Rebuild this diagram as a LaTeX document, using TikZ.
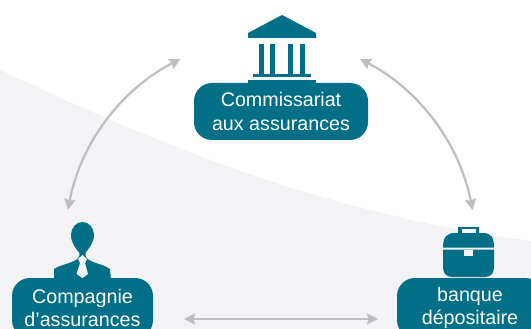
\documentclass[tikz,border=0pt]{standalone}
\usepackage{fontspec}
\setmainfont{Liberation Sans}
\usetikzlibrary{arrows.meta}
\definecolor{teal1}{HTML}{006F87}
\definecolor{bgpale}{HTML}{F3F3F6}
\definecolor{arrowgrey}{HTML}{BEBEC2}
\tikzset{
  lbl/.style={fill=teal1,text=white,rounded corners=18pt,align=center,font=\fontsize{19.7}{23.5}\selectfont,inner sep=0pt},
  dbl/.style={draw=arrowgrey,line width=2.2pt,{Stealth[length=11pt,width=11pt,inset=1.5pt]}-{Stealth[length=11pt,width=11pt,inset=1.5pt]}},
  icon/.style={fill=teal1,draw=none}
}
\begin{document}
\begin{tikzpicture}[x=1pt,y=-1pt]
\useasboundingbox (0,0) rectangle (531,329);
\clip (0,0) rectangle (531,329);
\fill[white] (0,0) rectangle (531,329);
\fill[bgpale] (0,70) .. controls (130,130) and (300,210) .. (531,241) -- (531,329) -- (0,329) -- cycle;
% building
\fill[icon] (248,33) -- (282,15) -- (316,33) -- (316,38) -- (248,38) -- cycle;
\foreach \x in {259,269.5,288,300}{\fill[icon] (\x,44) rectangle ++(5,31);}
\fill[icon] (253,74) rectangle (311,77);
\fill[icon] (248,80) rectangle (316,84);
% person
\fill[icon] (82.5,222) .. controls (89,222) and (94,228) .. (94,235) .. controls (94,243) and (88,249) .. (85.5,253) .. controls (85,257) and (87,259) .. (91,261) .. controls (97,264) and (105,265) .. (110,269) -- (111,280) -- (54,280) -- (54,269) .. controls (60,265) and (68,264) .. (74,261) .. controls (78,259) and (80,257) .. (79.5,253) .. controls (76,249) and (71,243) .. (71,235) .. controls (71,228) and (76,222) .. (82.5,222) -- cycle;
\fill[bgpale] (82.5,255) -- (87,259) -- (85,263) -- (88,274) -- (82.5,278) -- (76.5,274) -- (80,263) -- (78,259) -- cycle;
% case
\fill[icon] (443,247.5) .. controls (443,237) and (447,233) .. (455,233) -- (458,233) -- (458,227) -- (479,227) -- (479,233) -- (483,233) .. controls (491,233) and (494,237) .. (494,247.5) -- cycle;
\fill[icon] (443,249.5) -- (494,249.5) -- (494,267) .. controls (494,273) and (491,277) .. (485,277) -- (452,277) .. controls (446,277) and (443,273) .. (443,267) -- cycle;
\fill[white] (462,229) rectangle (476,233);
\fill[bgpale] (464,249.5) rectangle (473,256);
% labels
\node[lbl,minimum width=174pt,minimum height=57pt] (comm) at (281,111.5) {Commissariat\\aux assurances};
\node[lbl,minimum width=141pt,minimum height=60pt] (comp) at (82.5,308) {Compagnie\\d’assurances};
\node[lbl,minimum width=146pt,minimum height=60pt] (banq) at (470,308) {banque\\dépositaire};
% connectors
\coordinate (a1) at (180.5,59);
\coordinate (a2) at (68,210);
\coordinate (b1) at (360,59);
\coordinate (b2) at (472.5,210);
\coordinate (c1) at (184,319);
\coordinate (c2) at (378,319);
\draw[dbl] (a1) .. controls (120,90) and (80,145) .. (a2);
\draw[dbl] (b1) .. controls (420,90) and (460,145) .. (b2);
\draw[dbl] (c1) -- (c2);
\end{tikzpicture}
\end{document}
